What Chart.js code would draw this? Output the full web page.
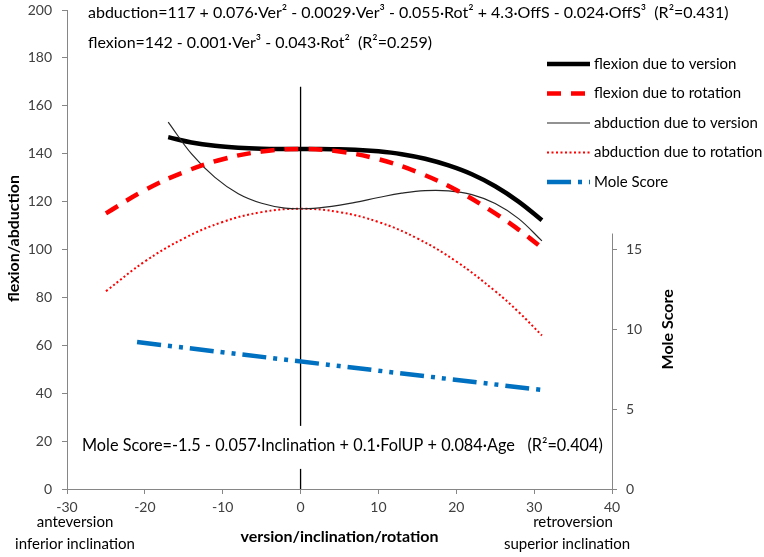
<!DOCTYPE html>
<html>
<head>
<meta charset="utf-8">
<script src="https://cdn.jsdelivr.net/npm/chart.js@4/dist/chart.umd.min.js"></script>
<style>
  body { margin: 0; background: #fff; }
</style>
</head>
<body>
<canvas id="chart" width="764" height="557"></canvas>
<script>
const FONT = "Lato, 'Open Sans', sans-serif";

// values
const verX = [-17, -14, -11, -8, -5, -2, 1, 4, 7, 10, 13, 16, 19, 22, 25, 28, 31];
const flexionVersion = [146.9, 144.7, 143.3, 142.5, 142.1, 142, 142, 141.9, 141.7, 141, 139.8, 137.9, 135.1, 131.4, 126.4, 120, 112.2];
const abductionVersion = [153.2, 139.9, 130.1, 123.3, 119.3, 117.3, 117.1, 118, 119.7, 121.7, 123.5, 124.6, 124.5, 122.9, 119.2, 112.9, 103.6];

const rotX = [-25, -20, -15, -10, -5, 0, 5, 10, 15, 20, 25, 28, 31];
const flexionRotation = [115.1, 124.8, 132.3, 137.7, 140.9, 142, 140.9, 137.7, 132.3, 124.8, 115.1, 108.3, 100.7];
const abductionRotation = [82.6, 95, 104.6, 111.5, 115.6, 117, 115.6, 111.5, 104.6, 95, 82.6, 73.9, 64.1];

const moleX = [-21, 31];
const moleScore = [9.2, 6.2];

const zeroLineX = [0, 0];
const zeroLineY = [0, 168];

const xTickValues = [-30, -20, -10, 0, 10, 20, 30, 40];
const leftTickValues = [0, 20, 40, 60, 80, 100, 120, 140, 160, 180, 200];
const rightTickValues = [0, 5, 10, 15];

const eqAbduction = "abduction=117 + 0.076\u00b7Ver\u00b2 - 0.0029\u00b7Ver\u00b3 - 0.055\u00b7Rot\u00b2 + 4.3\u00b7OffS - 0.024\u00b7OffS\u00b3  (R\u00b2=0.431)";
const eqFlexion = "flexion=142 - 0.001\u00b7Ver\u00b3 - 0.043\u00b7Rot\u00b2  (R\u00b2=0.259)";
const eqMole = "Mole Score=-1.5 - 0.057\u00b7Inclination + 0.1\u00b7FolUP + 0.084\u00b7Age   (R\u00b2=0.404)";

const pts = (xs, ys) => xs.map((x, i) => ({ x: x, y: ys[i] }));

// drop the label-driven top/bottom padding of the vertical axes
const noVPad = (s) => { s.paddingTop = 0; s.paddingBottom = 0; };

const extras = {
  id: "extras",
  afterDatasetsDraw(chart) {
    const ctx = chart.ctx;
    const { x, y, y1 } = chart.scales;
    const area = chart.chartArea;
    ctx.save();

    // partial secondary axis line
    ctx.strokeStyle = "#868686";
    ctx.lineWidth = 1;
    ctx.beginPath();
    ctx.moveTo(y1.left + 0.5, y1.getPixelForValue(0));
    ctx.lineTo(y1.left + 0.5, y1.getPixelForValue(16));
    ctx.stroke();

    // Mole Score equation with white box over the zero line
    ctx.font = "16.3px " + FONT;
    ctx.textBaseline = "middle";
    ctx.textAlign = "left";
    const eqY = y.getPixelForValue(18);
    const w = ctx.measureText(eqMole).width;
    ctx.fillStyle = "#fff";
    ctx.fillRect(area.left + 12, eqY - 20, w + 10, 43);
    ctx.fillStyle = "#000";
    ctx.fillText(eqMole, area.left + 15, eqY);

    // top equations
    ctx.font = "16px " + FONT;
    ctx.fillText(eqAbduction, area.left + 21, 13);
    ctx.fillText(eqFlexion, area.left + 21, 43);

    // legend
    ctx.font = "15px " + FONT;
    let ly = 64;
    chart.data.datasets.forEach((ds) => {
      if (!ds.label) return;
      ctx.save();
      ctx.strokeStyle = ds.borderColor;
      ctx.lineWidth = ds.borderWidth;
      ctx.setLineDash(ds.borderDash || []);
      ctx.beginPath();
      ctx.moveTo(547, ly);
      ctx.lineTo(590, ly);
      ctx.stroke();
      ctx.restore();
      ctx.fillStyle = "#000";
      ctx.fillText(ds.label, 594, ly);
      ly += 29.5;
    });

    // axis titles
    ctx.font = "bold 16px " + FONT;
    ctx.textAlign = "center";
    ctx.fillText("version/inclination/rotation", (area.left + area.right) / 2, 537);

    ctx.save();
    ctx.translate(14, (area.top + area.bottom) / 2 - 11);
    ctx.rotate(-Math.PI / 2);
    ctx.fillText("flexion/abduction", 0, 0);
    ctx.restore();

    ctx.save();
    ctx.translate(668, y1.getPixelForValue(10));
    ctx.rotate(-Math.PI / 2);
    ctx.fillText("Mole Score", 0, 0);
    ctx.restore();

    // end labels under x axis
    ctx.font = "15px " + FONT;
    ctx.fillText("anteversion", 75, 522);
    ctx.fillText("inferior inclination", 75, 544);
    ctx.fillText("retroversion", 573, 522);
    ctx.fillText("superior inclination", 567, 544);

    ctx.restore();
  }
};

const tickFont = { family: FONT, size: 14 };

new Chart(document.getElementById("chart"), {
  type: "line",
  data: {
    datasets: [
      {
        label: "flexion due to version",
        data: pts(verX, flexionVersion),
        borderColor: "#000000",
        borderWidth: 4.5,
        order: 4
      },
      {
        label: "flexion due to rotation",
        data: pts(rotX, flexionRotation),
        borderColor: "#ff0000",
        borderWidth: 4.5,
        borderDash: [14, 10],
        order: 1
      },
      {
        label: "abduction due to version",
        data: pts(verX, abductionVersion),
        borderColor: "#262626",
        borderWidth: 1.2,
        order: 2
      },
      {
        label: "abduction due to rotation",
        data: pts(rotX, abductionRotation),
        borderColor: "#ff0000",
        borderWidth: 2,
        borderDash: [2, 2.5],
        order: 3
      },
      {
        label: "Mole Score",
        data: pts(moleX, moleScore),
        borderColor: "#0070c0",
        borderWidth: 4.5,
        borderDash: [24, 7, 4, 7, 4, 7],
        yAxisID: "y1",
        order: 0
      },
      {
        label: "",
        data: pts(zeroLineX, zeroLineY),
        borderColor: "#000000",
        borderWidth: 1.3,
        tension: 0,
        order: 5
      }
    ]
  },
  options: {
    responsive: false,
    animation: false,
    devicePixelRatio: 1,
    layout: { padding: { top: 10, bottom: 0, left: 0, right: 0 } },
    elements: {
      point: { radius: 0 },
      line: { tension: 0.4, fill: false }
    },
    plugins: {
      legend: { display: false },
      tooltip: { enabled: false }
    },
    scales: {
      x: {
        type: "linear",
        min: -30,
        max: 40,
        afterBuildTicks: (s) => { s.ticks = xTickValues.map((v) => ({ value: v })); },
        afterFit: (s) => { s.height = 68; },
        ticks: { font: tickFont, color: "#404040", padding: 5, maxRotation: 0 },
        grid: { drawOnChartArea: false, tickLength: 5, color: "#868686" },
        border: { color: "#868686" }
      },
      y: {
        position: "left",
        min: 0,
        max: 200,
        afterBuildTicks: (s) => { s.ticks = leftTickValues.map((v) => ({ value: v })); },
        afterFit: (s) => { s.width = 67; noVPad(s); },
        ticks: { font: tickFont, color: "#404040", padding: 10 },
        grid: { drawOnChartArea: false, tickLength: 5, color: "#868686" },
        border: { color: "#868686" }
      },
      y1: {
        position: "right",
        min: 0,
        max: 30,
        afterBuildTicks: (s) => { s.ticks = rightTickValues.map((v) => ({ value: v })); },
        afterFit: (s) => { s.width = 152; noVPad(s); },
        ticks: { font: tickFont, color: "#404040", padding: 9 },
        grid: { drawOnChartArea: false, tickLength: 5, color: "#868686" },
        border: { display: false }
      }
    }
  },
  plugins: [extras]
});
</script>
</body>
</html>
